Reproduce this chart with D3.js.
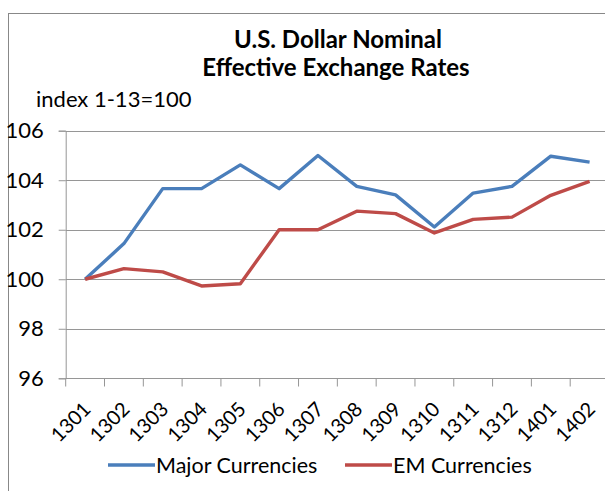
<!DOCTYPE html>
<html>
<head>
<meta charset="utf-8">
<script src="https://cdn.jsdelivr.net/npm/d3@7"></script>
<style>
  body { margin: 0; background: #fff; }
  svg { display: block; font-family: Lato, "Open Sans", "Liberation Sans", sans-serif; }
</style>
</head>
<body>
<svg width="605" height="491"></svg>
<script>
var months = ["1301", "1302", "1303", "1304", "1305", "1306", "1307", "1308", "1309", "1310", "1311", "1312", "1401", "1402"];
var major = [100, 101.44, 103.66, 103.66, 104.62, 103.66, 105.0, 103.75, 103.41, 102.11, 103.48, 103.75, 104.97, 104.73];
var em = [100, 100.43, 100.3, 99.73, 99.82, 102.0, 102.0, 102.75, 102.65, 101.87, 102.42, 102.51, 103.39, 103.95];
var yTicks = [96, 98, 100, 102, 104, 106];

var series = [
    {name: "Major Currencies", values: major, color: "#4a7ebb"},
    {name: "EM Currencies", values: em, color: "#be4b48"}
];

var svg = d3.select("svg"),
    width = +svg.attr("width"),
    height = +svg.attr("height");

// chart frame, cut off on the right like the original
svg.append("rect")
    .attr("x", 8.5).attr("y", 13.5)
    .attr("width", 640).attr("height", 500)
    .attr("fill", "none")
    .attr("stroke", "#888")
    .attr("stroke-width", 1);

var x = d3.scaleBand()
    .domain(months)
    .range([65.7, 609]);

var y = d3.scaleLinear()
    .domain([96, 106])
    .range([378.3, 130.7]);

// gridlines
svg.append("g")
    .selectAll("line")
    .data(yTicks)
    .enter().append("line")
    .attr("x1", 65.7).attr("x2", 609)
    .attr("y1", function(d) { return Math.round(y(d)) + 0.5; })
    .attr("y2", function(d) { return Math.round(y(d)) + 0.5; })
    .attr("stroke", "#969696")
    .attr("stroke-width", 1.2);

// y axis
var yAxis = svg.append("g")
    .attr("transform", "translate(65.7,0)")
    .call(d3.axisLeft(y).tickValues(yTicks).tickSize(7).tickPadding(15));
yAxis.select(".domain").attr("stroke", "#969696");
yAxis.selectAll(".tick line").attr("stroke", "#969696");
yAxis.selectAll("text")
    .attr("font-size", 22)
    .attr("fill", "#000")
    .attr("font-family", "Lato, 'Open Sans', sans-serif");

// x axis: ticks between categories
var xAxisG = svg.append("g")
    .attr("transform", "translate(0," + (Math.round(y(96)) + 0.5) + ")");
xAxisG.selectAll("line")
    .data(months.concat(["end"]))
    .enter().append("line")
    .attr("x1", function(d, i) { return 65.7 + i * x.step(); })
    .attr("x2", function(d, i) { return 65.7 + i * x.step(); })
    .attr("y1", 0).attr("y2", 8)
    .attr("stroke", "#969696");

xAxisG.selectAll("text")
    .data(months)
    .enter().append("text")
    .attr("transform", function(d) {
        return "translate(" + (x(d) + x.bandwidth() / 2 + 2) + ",27) rotate(-45)";
    })
    .attr("text-anchor", "end")
    .attr("dy", "0.35em")
    .attr("font-size", 20)
    .text(function(d) { return d; });

// lines
var line = d3.line()
    .x(function(d, i) { return x(months[i]) + x.bandwidth() / 2; })
    .y(function(d) { return y(d); });

svg.append("g")
    .selectAll("path")
    .data(series)
    .enter().append("path")
    .attr("d", function(s) { return line(s.values); })
    .attr("fill", "none")
    .attr("stroke", function(s) { return s.color; })
    .attr("stroke-width", 3.4)
    .attr("stroke-linejoin", "round");

// titles
svg.append("text")
    .attr("x", 338).attr("y", 48)
    .attr("text-anchor", "middle")
    .attr("font-size", 24).attr("font-weight", "bold")
    .text("U.S. Dollar Nominal");
svg.append("text")
    .attr("x", 336).attr("y", 76)
    .attr("text-anchor", "middle")
    .attr("font-size", 24).attr("font-weight", "bold")
    .text("Effective Exchange Rates");
svg.append("text")
    .attr("x", 36).attr("y", 107)
    .attr("font-size", 22)
    .text("index 1-13=100");

// legend
var legendPos = [108, 345];
var legend = svg.append("g")
    .selectAll("g")
    .data(series)
    .enter().append("g")
    .attr("transform", function(s, i) { return "translate(" + legendPos[i] + ",465)"; });
legend.append("line")
    .attr("x1", 0).attr("x2", 47)
    .attr("stroke", function(s) { return s.color; })
    .attr("stroke-width", 3.4);
legend.append("text")
    .attr("x", 48).attr("y", 8)
    .attr("font-size", 21.5)
    .text(function(s) { return s.name; });
</script>
</body>
</html>
